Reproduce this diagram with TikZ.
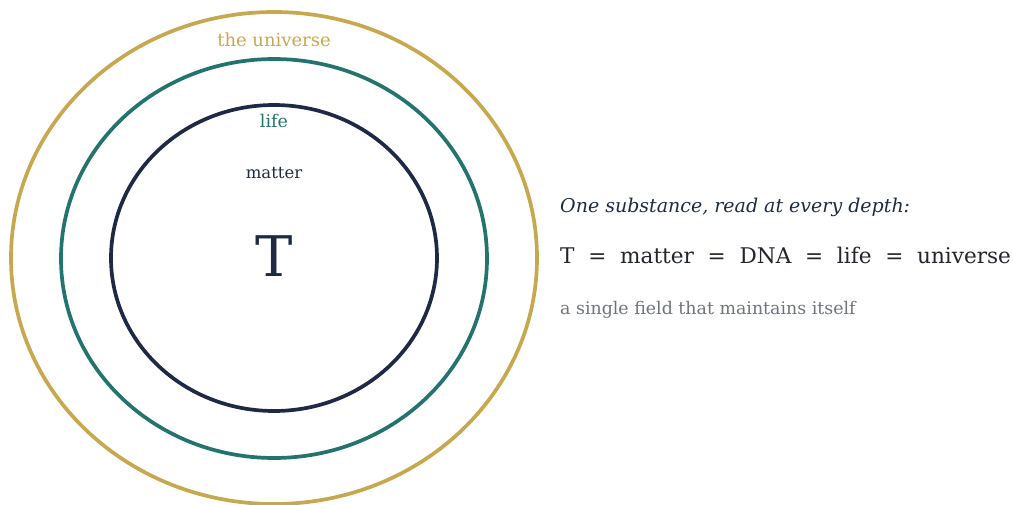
\documentclass[tikz,border=0pt]{standalone}
\usepackage{fontspec}
\setmainfont{DejaVu Serif}
\definecolor{gold}{HTML}{C8A84E}
\definecolor{teal2}{HTML}{23736E}
\definecolor{navy}{HTML}{1E2A45}
\definecolor{grayt}{HTML}{6E7380}
\definecolor{eqc}{HTML}{22252E}
\begin{document}
\begin{tikzpicture}[x=1pt,y=-1pt,
  ring/.style={line width=3.7pt},
  lbl/.style={anchor=base,inner sep=0pt}]
\useasboundingbox (0,0) rectangle (1013,504);
\draw[ring,gold] (274,258) ellipse [x radius=263, y radius=246];
\draw[ring,teal2] (274,258.5) ellipse [x radius=213, y radius=199.5];
\draw[ring,navy] (274,258) ellipse [x radius=163, y radius=153];
\node[lbl,text=gold,font=\fontsize{18}{21}\selectfont] (univ) at (274,46) {the universe};
\node[lbl,text=teal2,font=\fontsize{17.5}{21}\selectfont] (life) at (274,127) {life};
\node[lbl,text=navy,font=\fontsize{16.5}{20}\selectfont] (matter) at (274,178) {matter};
\node[lbl,text=navy,font=\fontsize{56}{60}\selectfont] (T) at (274,276) {T};
\node[anchor=base west,inner sep=0pt,text=navy,font=\fontsize{19}{22}\selectfont\itshape] (head) at (560,212) {One substance, read at every depth:};
\node[anchor=base west,inner sep=0pt,text=eqc,font=\fontsize{21.6}{25}\selectfont] (eq) at (560,263) {T\ \ =\ \ matter\ \ =\ \ DNA\ \ =\ \ life\ \ =\ \ universe};
\node[anchor=base west,inner sep=0pt,text=grayt,font=\fontsize{17.4}{20}\selectfont] (sub) at (560,314) {a single field that maintains itself};
\end{tikzpicture}
\end{document}
